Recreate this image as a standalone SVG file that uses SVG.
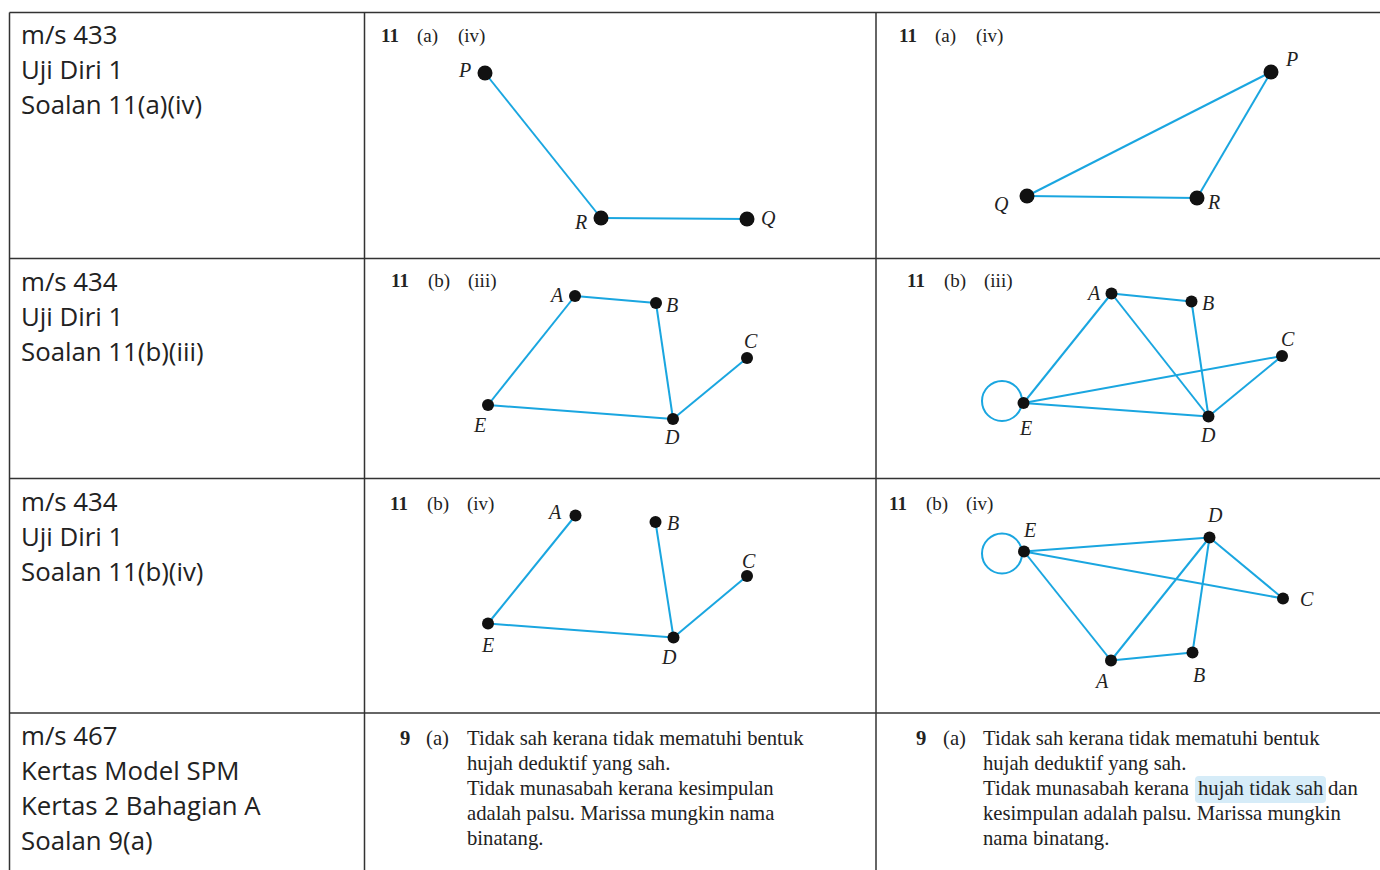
<svg xmlns="http://www.w3.org/2000/svg" width="1380" height="870" viewBox="0 0 1380 870">
<style>
.grid{stroke:#333;stroke-width:1.5;fill:none}
.hd{font-family:"Open Sans","Noto Sans",sans-serif;font-size:25.8px;fill:#222}
.sf{font-family:"Liberation Serif","Times New Roman",serif;font-size:19px;fill:#222}
.ans{font-family:"Liberation Serif","Times New Roman",serif;font-size:20.7px;fill:#222}
.b{font-weight:bold}
.lb{font-family:"Liberation Serif","Times New Roman",serif;font-style:italic;font-size:20px;fill:#222}
.e{stroke:#1aa6e0;stroke-width:2;fill:none}
.n{fill:#111}
</style>
<rect width="1380" height="870" fill="#fff"/>
<g id="table">
<line class="grid" x1="9.5" y1="12.5" x2="1380" y2="12.5"/>
<line class="grid" x1="9.5" y1="12.5" x2="9.5" y2="870"/>
<line class="grid" x1="364.5" y1="12.5" x2="364.5" y2="870"/>
<line class="grid" x1="876" y1="12.5" x2="876" y2="870"/>
<line class="grid" x1="9.5" y1="258.5" x2="1380" y2="258.5"/>
<line class="grid" x1="9.5" y1="478.5" x2="1380" y2="478.5"/>
<line class="grid" x1="9.5" y1="713" x2="1380" y2="713"/>
</g>
<g id="row1-label"><text class="hd" x="21" y="44">m/s 433</text><text class="hd" x="21" y="79">Uji Diri 1</text><text class="hd" x="21" y="114">Soalan 11(a)(iv)</text></g>
<g id="row2-label"><text class="hd" x="21" y="291">m/s 434</text><text class="hd" x="21" y="326">Uji Diri 1</text><text class="hd" x="21" y="361">Soalan 11(b)(iii)</text></g>
<g id="row3-label"><text class="hd" x="21" y="511">m/s 434</text><text class="hd" x="21" y="546">Uji Diri 1</text><text class="hd" x="21" y="581">Soalan 11(b)(iv)</text></g>
<g id="row4-label"><text class="hd" x="21" y="745">m/s 467</text><text class="hd" x="21" y="780">Kertas Model SPM</text><text class="hd" x="21" y="815">Kertas 2 Bahagian A</text><text class="hd" x="21" y="850">Soalan 9(a)</text></g>

<g id="headings">
<text class="sf" y="42"><tspan class="b" x="381">11</tspan><tspan x="417">(a)</tspan><tspan x="458">(iv)</tspan></text>
<text class="sf" y="42"><tspan class="b" x="899">11</tspan><tspan x="935">(a)</tspan><tspan x="976">(iv)</tspan></text>
<text class="sf" y="287"><tspan class="b" x="391">11</tspan><tspan x="428">(b)</tspan><tspan x="468">(iii)</tspan></text>
<text class="sf" y="287"><tspan class="b" x="907">11</tspan><tspan x="944">(b)</tspan><tspan x="984">(iii)</tspan></text>
<text class="sf" y="510"><tspan class="b" x="390">11</tspan><tspan x="427">(b)</tspan><tspan x="467">(iv)</tspan></text>
<text class="sf" y="510"><tspan class="b" x="889">11</tspan><tspan x="926">(b)</tspan><tspan x="966">(iv)</tspan></text>
</g>

<g id="connectors">
<line class="e" x1="485" y1="73" x2="601" y2="218"/>
<line class="e" x1="601" y1="218" x2="747" y2="219"/>
<line class="e" x1="1271" y1="72" x2="1027" y2="196"/>
<line class="e" x1="1271" y1="72" x2="1197" y2="198"/>
<line class="e" x1="1027" y1="196" x2="1197" y2="198"/>

<line class="e" x1="575" y1="296" x2="656" y2="303"/>
<line class="e" x1="656" y1="303" x2="673" y2="419"/>
<line class="e" x1="575" y1="296" x2="488" y2="405"/>
<line class="e" x1="488" y1="405" x2="673" y2="419"/>
<line class="e" x1="673" y1="419" x2="747" y2="358"/>

<line class="e" x1="1111.5" y1="293.5" x2="1191.5" y2="301.5"/>
<line class="e" x1="1111.5" y1="293.5" x2="1023.5" y2="403"/>
<line class="e" x1="1111.5" y1="293.5" x2="1208.5" y2="416.5"/>
<line class="e" x1="1191.5" y1="301.5" x2="1208.5" y2="416.5"/>
<line class="e" x1="1023.5" y1="403" x2="1282" y2="356"/>
<line class="e" x1="1023.5" y1="403" x2="1208.5" y2="416.5"/>
<line class="e" x1="1208.5" y1="416.5" x2="1282" y2="356"/>
<circle class="e" cx="1002" cy="401" r="20"/>

<line class="e" x1="575.5" y1="515.5" x2="488" y2="623.5"/>
<line class="e" x1="655.5" y1="522" x2="673.5" y2="637.5"/>
<line class="e" x1="488" y1="623.5" x2="673.5" y2="637.5"/>
<line class="e" x1="673.5" y1="637.5" x2="747" y2="576"/>

<line class="e" x1="1024" y1="551.5" x2="1209.5" y2="537.5"/>
<line class="e" x1="1024" y1="551.5" x2="1283" y2="598.5"/>
<line class="e" x1="1024" y1="551.5" x2="1111" y2="660.5"/>
<line class="e" x1="1209.5" y1="537.5" x2="1111" y2="660.5"/>
<line class="e" x1="1209.5" y1="537.5" x2="1192.5" y2="652.5"/>
<line class="e" x1="1209.5" y1="537.5" x2="1283" y2="598.5"/>
<line class="e" x1="1111" y1="660.5" x2="1192.5" y2="652.5"/>
<circle class="e" cx="1002" cy="553.5" r="20"/>
</g>

<g id="g1">
<circle class="n" cx="485" cy="73" r="7.5"/><circle class="n" cx="601" cy="218" r="7.5"/><circle class="n" cx="747" cy="219" r="7.5"/>
<text class="lb" x="459" y="77">P</text><text class="lb" x="575" y="229">R</text><text class="lb" x="761" y="225">Q</text>
</g>
<g id="g2">
<circle class="n" cx="1271" cy="72" r="7.5"/><circle class="n" cx="1027" cy="196" r="7.5"/><circle class="n" cx="1197" cy="198" r="7.5"/>
<text class="lb" x="1286" y="66">P</text><text class="lb" x="994" y="211">Q</text><text class="lb" x="1208" y="209">R</text>
</g>
<g id="g3">
<circle class="n" cx="575" cy="296" r="6"/><circle class="n" cx="656" cy="303" r="6"/><circle class="n" cx="747" cy="358" r="6"/><circle class="n" cx="673" cy="419" r="6"/><circle class="n" cx="488" cy="405" r="6"/>
<text class="lb" x="551" y="302">A</text><text class="lb" x="666" y="312">B</text><text class="lb" x="744" y="348">C</text><text class="lb" x="665" y="444">D</text><text class="lb" x="474" y="432">E</text>
</g>
<g id="g4">
<circle class="n" cx="1111.5" cy="293.5" r="6"/><circle class="n" cx="1191.5" cy="301.5" r="6"/><circle class="n" cx="1282" cy="356" r="6"/><circle class="n" cx="1208.5" cy="416.5" r="6"/><circle class="n" cx="1023.5" cy="403" r="6"/>
<text class="lb" x="1088" y="300">A</text><text class="lb" x="1202" y="310">B</text><text class="lb" x="1281" y="346">C</text><text class="lb" x="1201" y="442">D</text><text class="lb" x="1020" y="435">E</text>
</g>
<g id="g5">
<circle class="n" cx="575.5" cy="515.5" r="6"/><circle class="n" cx="655.5" cy="522" r="6"/><circle class="n" cx="747" cy="576" r="6"/><circle class="n" cx="673.5" cy="637.5" r="6"/><circle class="n" cx="488" cy="623.5" r="6"/>
<text class="lb" x="549" y="519">A</text><text class="lb" x="667" y="530">B</text><text class="lb" x="742" y="568">C</text><text class="lb" x="662" y="664">D</text><text class="lb" x="482" y="652">E</text>
</g>
<g id="g6">
<circle class="n" cx="1024" cy="551.5" r="6"/><circle class="n" cx="1209.5" cy="537.5" r="6"/><circle class="n" cx="1283" cy="598.5" r="6"/><circle class="n" cx="1111" cy="660.5" r="6"/><circle class="n" cx="1192.5" cy="652.5" r="6"/>
<text class="lb" x="1024" y="537">E</text><text class="lb" x="1208" y="522">D</text><text class="lb" x="1300" y="606">C</text><text class="lb" x="1096" y="688">A</text><text class="lb" x="1193" y="682">B</text>
</g>

<g id="ans1">
<text class="ans" y="745"><tspan class="b" x="400">9</tspan><tspan x="426">(a)</tspan><tspan x="467">Tidak sah kerana tidak mematuhi bentuk</tspan></text>
<text class="ans" x="467" y="770">hujah deduktif yang sah.</text>
<text class="ans" x="467" y="795">Tidak munasabah kerana kesimpulan</text>
<text class="ans" x="467" y="820">adalah palsu. Marissa mungkin nama</text>
<text class="ans" x="467" y="845">binatang.</text>
</g>
<g id="ans2">
<rect x="1195" y="776" width="131" height="27" rx="4" fill="#d6ecf8"/>
<text class="ans" y="745"><tspan class="b" x="916">9</tspan><tspan x="943">(a)</tspan><tspan x="983">Tidak sah kerana tidak mematuhi bentuk</tspan></text>
<text class="ans" x="983" y="770">hujah deduktif yang sah.</text>
<text class="ans" y="795"><tspan x="983">Tidak munasabah kerana</tspan><tspan x="1198">hujah tidak sah</tspan><tspan x="1328">dan</tspan></text>
<text class="ans" x="983" y="820">kesimpulan adalah palsu. Marissa mungkin</text>
<text class="ans" x="983" y="845">nama binatang.</text>
</g>
</svg>
